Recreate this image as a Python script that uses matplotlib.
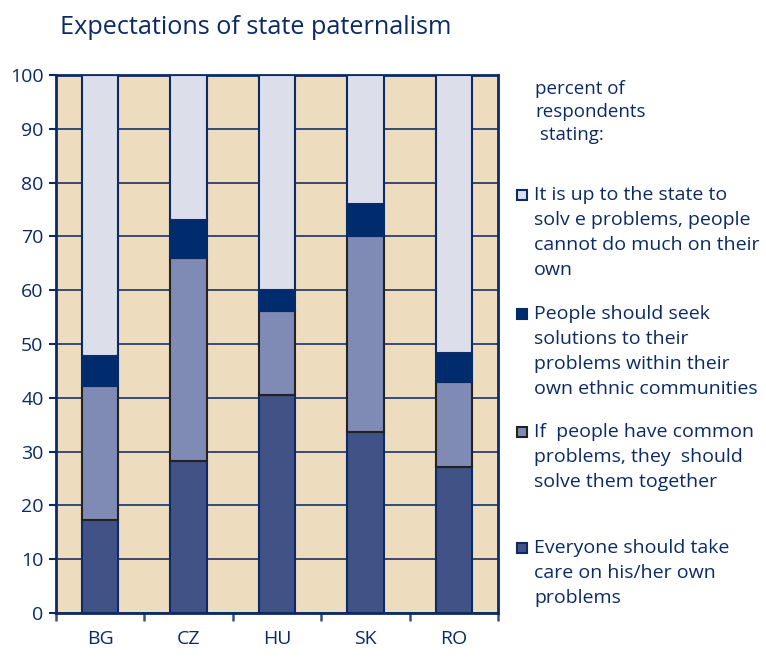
import numpy as np
import matplotlib.pyplot as plt

plt.rcParams['font.family'] = ['Open Sans', 'DejaVu Sans']

countries = ['BG', 'CZ', 'HU', 'SK', 'RO']
own_problems = [17.3, 28.2, 40.5, 33.7, 27.1]
solve_together = [24.9, 37.8, 15.7, 36.3, 15.8]
ethnic_communities = [5.5, 7.0, 3.8, 6.0, 5.5]
up_to_state = [52.3, 27.0, 40.0, 24.0, 51.6]

labels = [
    'It is up to the state to\nsolv e problems, people\ncannot do much on their\nown',
    'People should seek\nsolutions to their\nproblems within their\nown ethnic communities',
    'If  people have common\nproblems, they  should\nsolve them together',
    'Everyone should take\ncare on his/her own\nproblems',
]

navy = '#0b2a66'
c_bottom = '#415287'
c_mid = '#7f8bb4'
c_eth = '#002b6c'
c_state = '#dcdeea'
bg = '#eddcbd'

fig = plt.figure(figsize=(7.66, 6.59), dpi=100)
ax = fig.add_axes([56 / 766, 46 / 659, 442 / 766, 538 / 659])
ax.set_facecolor(bg)

x = np.arange(len(countries))
w = 0.41
b1 = np.array(own_problems)
b2 = b1 + np.array(solve_together)
b3 = b2 + np.array(ethnic_communities)

ax.bar(x, own_problems, w, color=c_bottom, edgecolor=navy, linewidth=1.5, zorder=3)
ax.bar(x, solve_together, w, bottom=b1, color=c_mid, edgecolor='#222222', linewidth=1.5, zorder=3)
ax.bar(x, ethnic_communities, w, bottom=b2, color=c_eth, edgecolor=c_eth, linewidth=1.5, zorder=3)
ax.bar(x, up_to_state, w, bottom=b3, color=c_state, edgecolor=navy, linewidth=1.5, zorder=3)

ax.set_xlim(-0.5, 4.5)
ax.set_ylim(0, 100)
ax.set_yticks(range(0, 101, 10))
ax.yaxis.grid(True, color='#2a3f70', linewidth=1.3, zorder=1)
ax.set_axisbelow(True)

ax.set_xticks(x)
ax.set_xticklabels(countries)
ax.set_xticks(np.arange(-0.5, 5, 1), minor=True)
ax.tick_params(axis='x', which='major', length=0, pad=12, labelsize=14, labelcolor=navy)
ax.tick_params(axis='x', which='minor', length=6, width=1.8, color='#3a5080', direction='out')
ax.tick_params(axis='y', length=5, width=1.5, color=navy, labelsize=14, labelcolor=navy, pad=4)

for s in ax.spines.values():
    s.set_color(navy)
    s.set_linewidth(2)

fig.text(60 / 766, 1 - 28 / 659, 'Expectations of state paternalism', fontsize=18.2,
         color=navy, va='center', ha='left')

fig.text(535 / 766, 1 - 112 / 659, 'percent of\nrespondents\n stating:', fontsize=13.5,
         color=navy, va='center', ha='left', linespacing=1.38)

colors = [c_state, c_eth, c_mid, c_bottom]
edges = [navy, c_eth, '#222222', navy]
tops = [195, 314, 432, 548]
for lab, col, ec, yt in zip(labels, colors, edges, tops):
    sq = plt.Rectangle((517 / 766, 1 - (yt + 5) / 659), 10 / 766, 10 / 659,
                       transform=fig.transFigure, facecolor=col, edgecolor=ec, linewidth=1.5)
    fig.patches.append(sq)
    fig.text(534 / 766, 1 - (yt - 9) / 659, lab, fontsize=14, color=navy,
             va='top', ha='left', linespacing=1.5)

plt.savefig('out.png', dpi=100)
